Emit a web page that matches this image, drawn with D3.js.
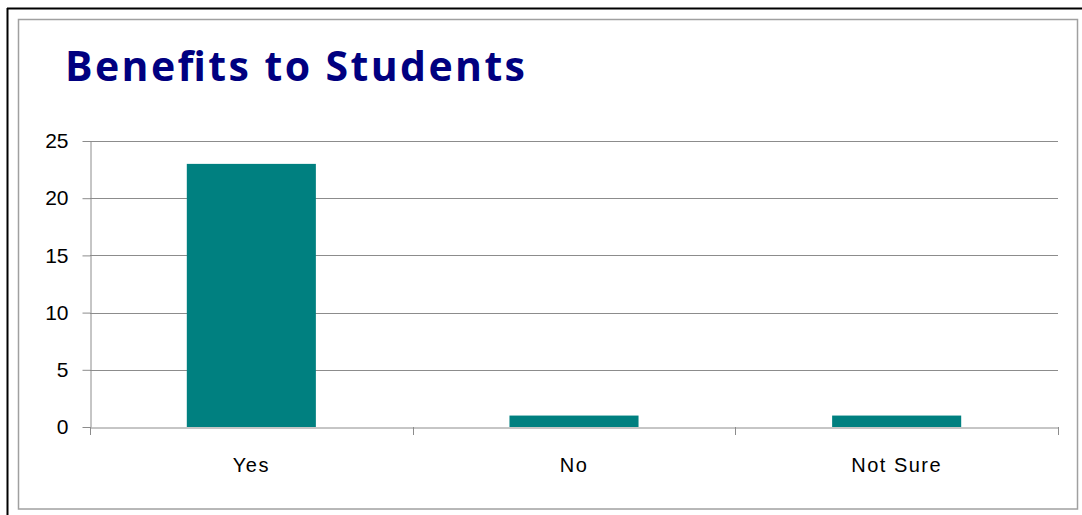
<!DOCTYPE html>
<html><head><meta charset="utf-8">
<script src="https://cdn.jsdelivr.net/npm/d3@7"></script>
<style>body{margin:0;background:#fff}svg{display:block}</style>
</head><body><svg id="c" width="1082" height="515"></svg>
<script>
const categories = ["Yes", "No", "Not Sure"];
const values = [23, 1, 1];
const yTicks = [0, 5, 10, 15, 20, 25];
const title = "Benefits to Students";

const svg = d3.select("#c");
// outer frame
svg.append("line").attr("x1",7).attr("x2",1082).attr("y1",8.5).attr("y2",8.5).attr("stroke","#000").attr("stroke-width",2);
svg.append("line").attr("x1",7.5).attr("x2",7.5).attr("y1",8).attr("y2",515).attr("stroke","#000").attr("stroke-width",2);
svg.append("rect").attr("x",18.5).attr("y",19.5).attr("width",1059).attr("height",489.5)
  .attr("fill","none").attr("stroke","#a0a0a0").attr("stroke-width",1.5);

const m = {left:90, right:1058, top:141, bottom:427};
const x = d3.scaleBand().domain(categories).range([m.left, m.right]).padding(0);
const y = d3.scaleLinear().domain([0,25]).range([m.bottom, m.top]);

// gridlines
svg.append("g").selectAll("line").data(yTicks.filter(d=>d>0)).join("line")
  .attr("x1",m.left).attr("x2",m.right).attr("y1",d=>Math.round(y(d))+0.5).attr("y2",d=>Math.round(y(d))+0.5)
  .attr("stroke","#8c8c8c").attr("stroke-width",1);

// bars
const bw = x.bandwidth()*0.4;
svg.append("g").selectAll("rect").data(values).join("rect")
  .attr("x",(d,i)=>x(categories[i])+x.bandwidth()/2-bw/2)
  .attr("y",d=>y(d)).attr("width",bw).attr("height",d=>y(0)-y(d))
  .attr("fill","#008080");

// y axis
const ya = svg.append("g").attr("transform",`translate(${m.left+0.5},0)`)
  .call(d3.axisLeft(y).tickValues(yTicks).tickSize(8).tickSizeOuter(0).tickPadding(14));
ya.select(".domain").attr("stroke","#8c8c8c");
ya.selectAll(".tick line").attr("stroke","#8c8c8c");
ya.selectAll("text").attr("font-family","'Liberation Sans', Arial, sans-serif").attr("font-size",21).attr("fill","#000");

// x axis
const xa = svg.append("g").attr("transform",`translate(0,${Math.round(y(0))+0.5})`)
  .call(d3.axisBottom(x).tickSize(0).tickSizeOuter(0).tickPadding(30));
xa.select(".domain").attr("stroke","#8c8c8c");
xa.selectAll("text").attr("font-family","'Liberation Sans', Arial, sans-serif").attr("font-size",20)
  .attr("letter-spacing",1.5).attr("fill","#000");
// category boundary ticks
const bounds = [m.left, ...categories.map(c=>x(c)+x.bandwidth())];
svg.append("g").selectAll("line").data(bounds).join("line")
  .attr("x1",d=>Math.round(d)+0.5).attr("x2",d=>Math.round(d)+0.5)
  .attr("y1",y(0)).attr("y2",y(0)+8).attr("stroke","#8c8c8c");

// title
svg.append("text").attr("x",65).attr("y",81).text(title)
  .attr("font-family","'Open Sans', 'Liberation Sans', sans-serif").attr("font-weight","bold")
  .attr("font-size",41).attr("fill","#000080")
  .attr("textLength",460).attr("lengthAdjust","spacing");
</script></body></html>
